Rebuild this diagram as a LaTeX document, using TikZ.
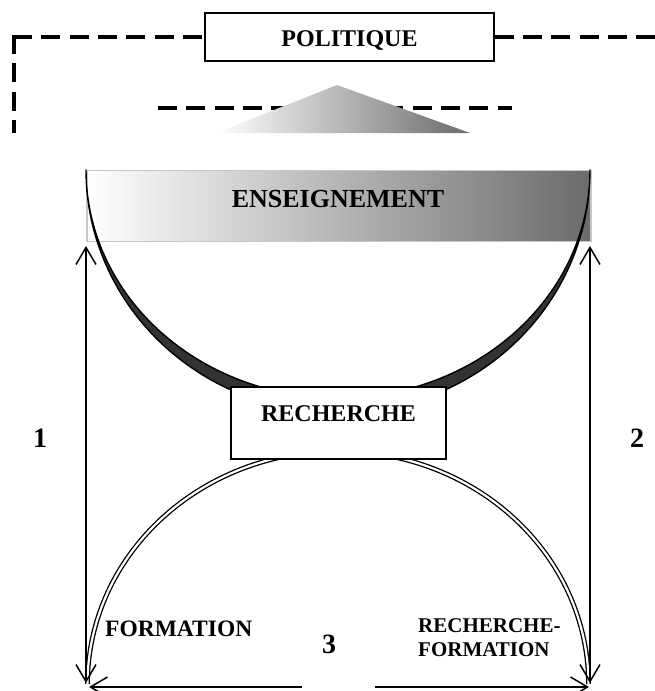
\documentclass[tikz,border=0pt]{standalone}
\usepackage{fontspec}
\setmainfont{Liberation Serif}
\usetikzlibrary{arrows.meta}
\begin{document}
\begin{tikzpicture}[x=1pt,y=-1pt,
  dashline/.style={line width=3.8pt, dash pattern=on 19pt off 9.3pt},
  boxst/.style={draw=black, line width=1.3pt, fill=white, inner sep=0pt},
  lbl/.style={font=\bfseries\fontsize{24}{28}\selectfont, inner sep=0pt},
  biglbl/.style={font=\bfseries\fontsize{26}{30}\selectfont, inner sep=0pt},
  smalllbl/.style={font=\bfseries\fontsize{21}{24}\selectfont, inner sep=0pt},
  midlbl/.style={font=\bfseries\fontsize{23.5}{26}\selectfont, inner sep=0pt},
  numlbl/.style={font=\bfseries\fontsize{28}{32}\selectfont, inner sep=0pt},
  arr/.style={line width=1.5pt, {Straight Barb[length=17pt,width=20pt]}-{Straight Barb[length=17pt,width=20pt]}},
  crescent/.style={draw=black, line width=1.4pt, line join=round},
  doublearc/.style={draw=black, line width=1.3pt, double=white, double distance=2.2pt}
]
\useasboundingbox (0,0) rectangle (655,691);

% coordinates
\coordinate (cL) at (13,37);
\coordinate (cLv) at (14,35);
\coordinate (cLb) at (14,133);
\coordinate (cR) at (655,37);
\coordinate (ml) at (158,108);
\coordinate (mr) at (512,108);
\coordinate (l1) at (86,246);
\coordinate (l2) at (86,683);
\coordinate (r1) at (590,246);
\coordinate (r2) at (590,683);
\coordinate (b1) at (89,687);
\coordinate (b2) at (589,687);

% POLITIQUE box and dashed lines
\node[boxst, minimum width=289pt, minimum height=48pt] (pol) at (349.5,37) {};
\draw[dashline] (cL) -- (pol.west);
\draw[dashline] (cLv) -- (cLb);
\draw[dashline] (pol.east) -- (cR);
\node[boxst, minimum width=289pt, minimum height=48pt] (pol2) at (pol) {};
\node[lbl, anchor=base] (polt) at (349.5,46.7) {POLITIQUE};

% middle dashed line and triangle
\draw[dashline] (ml) -- (mr);
\shade[left color=white, right color=black!58] (216,133) -- (337,85) -- (470,133) -- cycle;

% ENSEIGNEMENT bar
\node[draw=black!22, line width=1.5pt, left color=white, right color=black!58,
      minimum width=504pt, minimum height=71pt, inner sep=0pt] (ens) at (338.75,206) {};
\node[biglbl, anchor=base] (enst) at (338,207.5) {ENSEIGNEMENT};

% upper crescent
\filldraw[crescent, fill=black!80]
  plot[domain=0:180, samples=140, variable=\t] ({338+252*cos(\t)},{170+243*sin(\t)})
  -- plot[domain=0:180, samples=140, variable=\t] ({338-252*cos(\t)},{170+228*sin(\t)})
  -- cycle;

% lower double arc
\draw[doublearc]
  plot[domain=0:180, samples=140, variable=\t] ({338+250.5*cos(\t)},{684-233*sin(\t)});

% RECHERCHE box
\node[boxst, minimum width=215pt, minimum height=72pt] (rech) at (338.5,423) {};
\node[lbl, anchor=base] (recht) at (338.5,421) {RECHERCHE};

% arrows
\draw[arr] (l2) -- (l1);
\draw[arr] (r2) -- (r1);
\draw[arr] (b1) -- (b2);
\fill[white] (302,683) rectangle (375,691);

% labels
\node[numlbl] (n1) at (40,438) {1};
\node[numlbl] (n2) at (637,438) {2};
\node[numlbl] (n3) at (329,644) {3};
\node[midlbl, anchor=base west] (form) at (105,636) {FORMATION};
\node[smalllbl, anchor=base west] (rf1) at (418,632.7) {RECHERCHE-};
\node[smalllbl, anchor=base west] (rf2) at (418,656.7) {FORMATION};
\end{tikzpicture}
\end{document}
